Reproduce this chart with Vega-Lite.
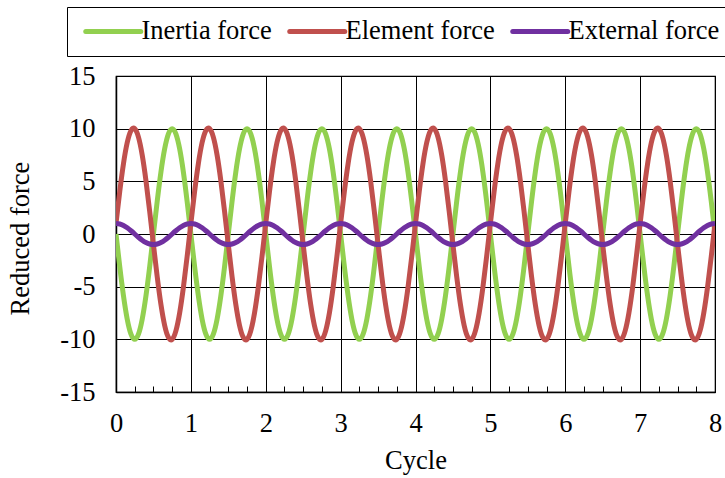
{
"$schema": "https://vega.github.io/schema/vega-lite/v6.json",
"width": 599, "height": 316,
"autosize": {"type": "none"},
"padding": {"left": 116, "top": 76, "right": 10, "bottom": 86},
"background": "white",
"config": {"font": "Times New Roman, Liberation Serif, serif", "view": {"stroke": "black", "strokeWidth": 1.2}},
"data": {"values": [
{"t":0,"I":0,"E":1,"X":1},{"t":0.05,"I":-3.09,"E":4.04,"X":0.95},{"t":0.1,"I":-5.88,"E":6.69,"X":0.81},{"t":0.15,"I":-8.09,"E":8.68,"X":0.59},{"t":0.2,"I":-9.51,"E":9.82,"X":0.31},{"t":0.25,"I":-10,"E":10,"X":0},{"t":0.3,"I":-9.51,"E":9.2,"X":-0.31},{"t":0.35,"I":-8.09,"E":7.5,"X":-0.59},{"t":0.4,"I":-5.88,"E":5.07,"X":-0.81},{"t":0.45,"I":-3.09,"E":2.14,"X":-0.95},{"t":0.5,"I":0,"E":-1,"X":-1},{"t":0.55,"I":3.09,"E":-4.04,"X":-0.95},{"t":0.6,"I":5.88,"E":-6.69,"X":-0.81},{"t":0.65,"I":8.09,"E":-8.68,"X":-0.59},{"t":0.7,"I":9.51,"E":-9.82,"X":-0.31},{"t":0.75,"I":10,"E":-10,"X":0},{"t":0.8,"I":9.51,"E":-9.2,"X":0.31},{"t":0.85,"I":8.09,"E":-7.5,"X":0.59},{"t":0.9,"I":5.88,"E":-5.07,"X":0.81},{"t":0.95,"I":3.09,"E":-2.14,"X":0.95},
{"t":1,"I":0,"E":1,"X":1},{"t":1.05,"I":-3.09,"E":4.04,"X":0.95},{"t":1.1,"I":-5.88,"E":6.69,"X":0.81},{"t":1.15,"I":-8.09,"E":8.68,"X":0.59},{"t":1.2,"I":-9.51,"E":9.82,"X":0.31},{"t":1.25,"I":-10,"E":10,"X":0},{"t":1.3,"I":-9.51,"E":9.2,"X":-0.31},{"t":1.35,"I":-8.09,"E":7.5,"X":-0.59},{"t":1.4,"I":-5.88,"E":5.07,"X":-0.81},{"t":1.45,"I":-3.09,"E":2.14,"X":-0.95},{"t":1.5,"I":0,"E":-1,"X":-1},{"t":1.55,"I":3.09,"E":-4.04,"X":-0.95},{"t":1.6,"I":5.88,"E":-6.69,"X":-0.81},{"t":1.65,"I":8.09,"E":-8.68,"X":-0.59},{"t":1.7,"I":9.51,"E":-9.82,"X":-0.31},{"t":1.75,"I":10,"E":-10,"X":0},{"t":1.8,"I":9.51,"E":-9.2,"X":0.31},{"t":1.85,"I":8.09,"E":-7.5,"X":0.59},{"t":1.9,"I":5.88,"E":-5.07,"X":0.81},{"t":1.95,"I":3.09,"E":-2.14,"X":0.95},
{"t":2,"I":0,"E":1,"X":1},{"t":2.05,"I":-3.09,"E":4.04,"X":0.95},{"t":2.1,"I":-5.88,"E":6.69,"X":0.81},{"t":2.15,"I":-8.09,"E":8.68,"X":0.59},{"t":2.2,"I":-9.51,"E":9.82,"X":0.31},{"t":2.25,"I":-10,"E":10,"X":0},{"t":2.3,"I":-9.51,"E":9.2,"X":-0.31},{"t":2.35,"I":-8.09,"E":7.5,"X":-0.59},{"t":2.4,"I":-5.88,"E":5.07,"X":-0.81},{"t":2.45,"I":-3.09,"E":2.14,"X":-0.95},{"t":2.5,"I":0,"E":-1,"X":-1},{"t":2.55,"I":3.09,"E":-4.04,"X":-0.95},{"t":2.6,"I":5.88,"E":-6.69,"X":-0.81},{"t":2.65,"I":8.09,"E":-8.68,"X":-0.59},{"t":2.7,"I":9.51,"E":-9.82,"X":-0.31},{"t":2.75,"I":10,"E":-10,"X":0},{"t":2.8,"I":9.51,"E":-9.2,"X":0.31},{"t":2.85,"I":8.09,"E":-7.5,"X":0.59},{"t":2.9,"I":5.88,"E":-5.07,"X":0.81},{"t":2.95,"I":3.09,"E":-2.14,"X":0.95},
{"t":3,"I":0,"E":1,"X":1},{"t":3.05,"I":-3.09,"E":4.04,"X":0.95},{"t":3.1,"I":-5.88,"E":6.69,"X":0.81},{"t":3.15,"I":-8.09,"E":8.68,"X":0.59},{"t":3.2,"I":-9.51,"E":9.82,"X":0.31},{"t":3.25,"I":-10,"E":10,"X":0},{"t":3.3,"I":-9.51,"E":9.2,"X":-0.31},{"t":3.35,"I":-8.09,"E":7.5,"X":-0.59},{"t":3.4,"I":-5.88,"E":5.07,"X":-0.81},{"t":3.45,"I":-3.09,"E":2.14,"X":-0.95},{"t":3.5,"I":0,"E":-1,"X":-1},{"t":3.55,"I":3.09,"E":-4.04,"X":-0.95},{"t":3.6,"I":5.88,"E":-6.69,"X":-0.81},{"t":3.65,"I":8.09,"E":-8.68,"X":-0.59},{"t":3.7,"I":9.51,"E":-9.82,"X":-0.31},{"t":3.75,"I":10,"E":-10,"X":0},{"t":3.8,"I":9.51,"E":-9.2,"X":0.31},{"t":3.85,"I":8.09,"E":-7.5,"X":0.59},{"t":3.9,"I":5.88,"E":-5.07,"X":0.81},{"t":3.95,"I":3.09,"E":-2.14,"X":0.95},
{"t":4,"I":0,"E":1,"X":1},{"t":4.05,"I":-3.09,"E":4.04,"X":0.95},{"t":4.1,"I":-5.88,"E":6.69,"X":0.81},{"t":4.15,"I":-8.09,"E":8.68,"X":0.59},{"t":4.2,"I":-9.51,"E":9.82,"X":0.31},{"t":4.25,"I":-10,"E":10,"X":0},{"t":4.3,"I":-9.51,"E":9.2,"X":-0.31},{"t":4.35,"I":-8.09,"E":7.5,"X":-0.59},{"t":4.4,"I":-5.88,"E":5.07,"X":-0.81},{"t":4.45,"I":-3.09,"E":2.14,"X":-0.95},{"t":4.5,"I":0,"E":-1,"X":-1},{"t":4.55,"I":3.09,"E":-4.04,"X":-0.95},{"t":4.6,"I":5.88,"E":-6.69,"X":-0.81},{"t":4.65,"I":8.09,"E":-8.68,"X":-0.59},{"t":4.7,"I":9.51,"E":-9.82,"X":-0.31},{"t":4.75,"I":10,"E":-10,"X":0},{"t":4.8,"I":9.51,"E":-9.2,"X":0.31},{"t":4.85,"I":8.09,"E":-7.5,"X":0.59},{"t":4.9,"I":5.88,"E":-5.07,"X":0.81},{"t":4.95,"I":3.09,"E":-2.14,"X":0.95},
{"t":5,"I":0,"E":1,"X":1},{"t":5.05,"I":-3.09,"E":4.04,"X":0.95},{"t":5.1,"I":-5.88,"E":6.69,"X":0.81},{"t":5.15,"I":-8.09,"E":8.68,"X":0.59},{"t":5.2,"I":-9.51,"E":9.82,"X":0.31},{"t":5.25,"I":-10,"E":10,"X":0},{"t":5.3,"I":-9.51,"E":9.2,"X":-0.31},{"t":5.35,"I":-8.09,"E":7.5,"X":-0.59},{"t":5.4,"I":-5.88,"E":5.07,"X":-0.81},{"t":5.45,"I":-3.09,"E":2.14,"X":-0.95},{"t":5.5,"I":0,"E":-1,"X":-1},{"t":5.55,"I":3.09,"E":-4.04,"X":-0.95},{"t":5.6,"I":5.88,"E":-6.69,"X":-0.81},{"t":5.65,"I":8.09,"E":-8.68,"X":-0.59},{"t":5.7,"I":9.51,"E":-9.82,"X":-0.31},{"t":5.75,"I":10,"E":-10,"X":0},{"t":5.8,"I":9.51,"E":-9.2,"X":0.31},{"t":5.85,"I":8.09,"E":-7.5,"X":0.59},{"t":5.9,"I":5.88,"E":-5.07,"X":0.81},{"t":5.95,"I":3.09,"E":-2.14,"X":0.95},
{"t":6,"I":0,"E":1,"X":1},{"t":6.05,"I":-3.09,"E":4.04,"X":0.95},{"t":6.1,"I":-5.88,"E":6.69,"X":0.81},{"t":6.15,"I":-8.09,"E":8.68,"X":0.59},{"t":6.2,"I":-9.51,"E":9.82,"X":0.31},{"t":6.25,"I":-10,"E":10,"X":0},{"t":6.3,"I":-9.51,"E":9.2,"X":-0.31},{"t":6.35,"I":-8.09,"E":7.5,"X":-0.59},{"t":6.4,"I":-5.88,"E":5.07,"X":-0.81},{"t":6.45,"I":-3.09,"E":2.14,"X":-0.95},{"t":6.5,"I":0,"E":-1,"X":-1},{"t":6.55,"I":3.09,"E":-4.04,"X":-0.95},{"t":6.6,"I":5.88,"E":-6.69,"X":-0.81},{"t":6.65,"I":8.09,"E":-8.68,"X":-0.59},{"t":6.7,"I":9.51,"E":-9.82,"X":-0.31},{"t":6.75,"I":10,"E":-10,"X":0},{"t":6.8,"I":9.51,"E":-9.2,"X":0.31},{"t":6.85,"I":8.09,"E":-7.5,"X":0.59},{"t":6.9,"I":5.88,"E":-5.07,"X":0.81},{"t":6.95,"I":3.09,"E":-2.14,"X":0.95},
{"t":7,"I":0,"E":1,"X":1},{"t":7.05,"I":-3.09,"E":4.04,"X":0.95},{"t":7.1,"I":-5.88,"E":6.69,"X":0.81},{"t":7.15,"I":-8.09,"E":8.68,"X":0.59},{"t":7.2,"I":-9.51,"E":9.82,"X":0.31},{"t":7.25,"I":-10,"E":10,"X":0},{"t":7.3,"I":-9.51,"E":9.2,"X":-0.31},{"t":7.35,"I":-8.09,"E":7.5,"X":-0.59},{"t":7.4,"I":-5.88,"E":5.07,"X":-0.81},{"t":7.45,"I":-3.09,"E":2.14,"X":-0.95},{"t":7.5,"I":0,"E":-1,"X":-1},{"t":7.55,"I":3.09,"E":-4.04,"X":-0.95},{"t":7.6,"I":5.88,"E":-6.69,"X":-0.81},{"t":7.65,"I":8.09,"E":-8.68,"X":-0.59},{"t":7.7,"I":9.51,"E":-9.82,"X":-0.31},{"t":7.75,"I":10,"E":-10,"X":0},{"t":7.8,"I":9.51,"E":-9.2,"X":0.31},{"t":7.85,"I":8.09,"E":-7.5,"X":0.59},{"t":7.9,"I":5.88,"E":-5.07,"X":0.81},{"t":7.95,"I":3.09,"E":-2.14,"X":0.95},
{"t":8,"I":0,"E":1,"X":1}
]},
"transform": [{"fold": ["I", "E", "X"], "as": ["s", "v"]}],
"mark": {"type": "line", "interpolate": "natural", "strokeWidth": 5, "clip": true},
"encoding": {
  "x": {"field": "t", "type": "quantitative", "scale": {"domain": [0, 8], "nice": false},
    "axis": {"values": [0,0.25,0.5,0.75,1,1.25,1.5,1.75,2,2.25,2.5,2.75,3,3.25,3.5,3.75,4,4.25,4.5,4.75,5,5.25,5.5,5.75,6,6.25,6.5,6.75,7,7.25,7.5,7.75,8],
      "labelExpr": "datum.value % 1 === 0 ? '' + datum.value : ''",
      "title": "Cycle", "titleFontSize": 26.5, "titleFontWeight": "normal", "titleColor": "black",
      "titleBaseline": "alphabetic", "titleY": 76,
      "labelFontSize": 26.5, "labelColor": "black", "labelPadding": 24, "labelFlush": false, "labelOverlap": false,
      "tickSize": -6, "tickColor": "black", "tickWidth": 1,
      "domainColor": "black", "domainWidth": 1.5,
      "grid": true, "gridColor": "black", "gridWidth": 1,
      "gridOpacity": {"condition": {"test": "datum.value % 1 === 0", "value": 1}, "value": 0}}},
  "y": {"field": "v", "type": "quantitative", "scale": {"domain": [-15, 15], "nice": false},
    "axis": {"values": [-15,-10,-5,0,5,10,15], "labelExpr": "'' + datum.value",
      "title": "Reduced force", "titleFontSize": 26.5, "titleFontWeight": "normal", "titleColor": "black",
      "titleBaseline": "alphabetic", "titleX": -88, "titleY": 162, "titleAlign": "center", "titleAngle": -90,
      "labelFontSize": 26.5, "labelColor": "black", "labelPadding": 21, "labelFlush": false,
      "tickSize": 0, "domainColor": "black", "domainWidth": 1.5,
      "grid": true, "gridColor": "black", "gridWidth": 1}},
  "color": {"field": "s", "type": "nominal",
    "scale": {"domain": ["I", "E", "X"], "range": ["#92D050", "#C0504D", "#7030A0"]},
    "legend": {"orient": "none", "legendX": -49, "legendY": -69, "direction": "horizontal", "title": null,
      "symbolType": "M-1,0H9", "symbolSize": 121, "symbolStrokeWidth": 5,
      "labelFontSize": 26.5, "labelColor": "black", "labelOffset": 37, "labelLimit": 400,
      "columnPadding": 7, "padding": 11, "strokeColor": "black",
      "labelExpr": "datum.label == 'I' ? 'Inertia force' : datum.label == 'E' ? 'Element force' : 'External force'",
      "encode": {"symbols": {"update": {"strokeCap": {"value": "round"}}}}}}
}
}
